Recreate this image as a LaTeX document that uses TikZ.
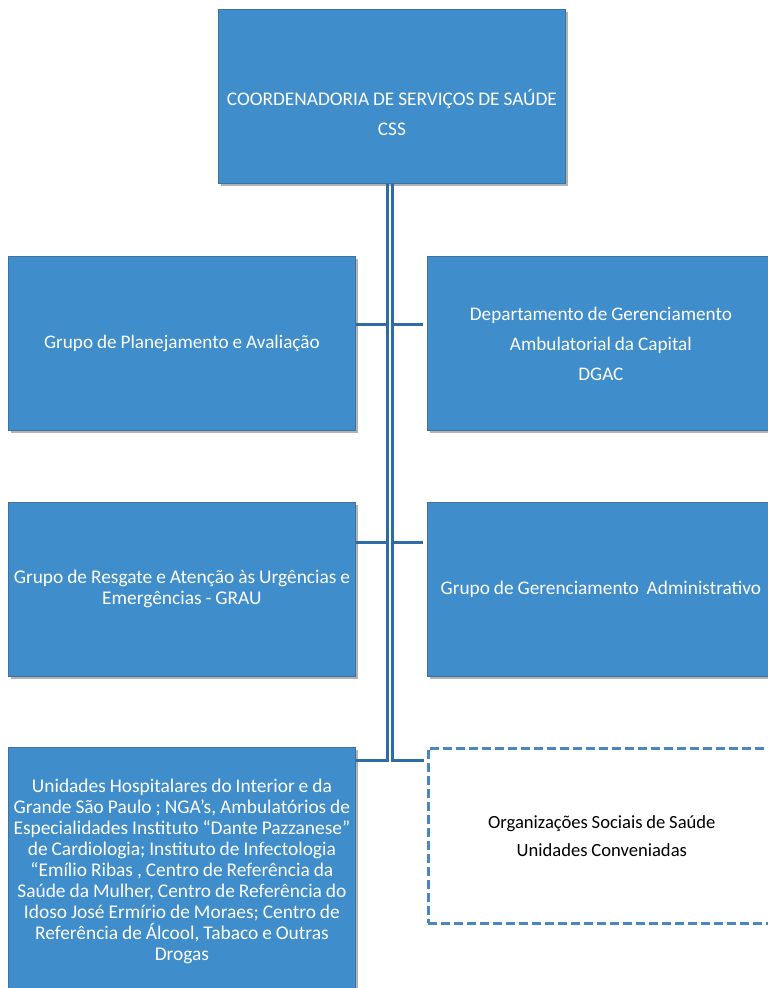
\documentclass[tikz,border=0pt]{standalone}
\usepackage{fontspec}
\setmainfont[WordSpace=0.9]{Carlito}
\usetikzlibrary{shadows,calc}
\definecolor{boxblue}{HTML}{3F8DCB}
\definecolor{boxedge}{HTML}{41719C}
\definecolor{linkblue}{HTML}{2F6CA6}
\definecolor{dashblue}{HTML}{4A86C2}

\begin{document}
\begin{tikzpicture}[x=1pt,y=-1pt,
  orgbox/.style={rectangle, anchor=north west, minimum width=347pt,
    minimum height=174pt, inner sep=2pt, fill=boxblue, draw=boxedge,
    line width=0.8pt, text=white, align=center,
    font=\fontsize{19.2}{30}\selectfont,
    drop shadow={shadow xshift=2.5pt, shadow yshift=-2.5pt, fill=black, opacity=0.3}},
  dashbox/.style={rectangle, anchor=north west, minimum width=347pt,
    minimum height=175pt, inner sep=2pt, draw=dashblue, line width=2.6pt,
    dash pattern=on 9pt off 4pt, text=black, align=center,
    font=\fontsize{18.6}{28}\selectfont},
  link/.style={draw=linkblue, line width=2.8pt},
]
\clip (0,0) rectangle (768,988);

% top unit
\node[orgbox] (css) at (218,9) {};
\node[text=white, align=center, font=\fontsize{19.3}{30}\selectfont]
  (csstext) at ([yshift=-16pt]css.center)
  {COORDENADORIA DE SERVIÇOS DE SAÚDE\\CSS};

% first row
\node[orgbox] (gpa) at (8,256) {Grupo de Planejamento e Avaliação};
\node[orgbox] (dgac) at (427,256)
  {Departamento de Gerenciamento\\Ambulatorial da Capital\\DGAC};

% second row
\node[orgbox, font=\fontsize{19.4}{21}\selectfont] (grau) at (8,502)
  {Grupo de Resgate e Atenção às Urgências e\\Emergências - GRAU};
\node[orgbox, font=\fontsize{19.3}{30}\selectfont] (gga) at (427,502)
  {Grupo de Gerenciamento~ Administrativo};

% third row
\node[orgbox, minimum height=249pt, font=\fontsize{19.4}{21}\selectfont] (unid) at (8,747)
  {Unidades Hospitalares do Interior e da\\
   Grande São Paulo ; NGA’s, Ambulatórios de\\
   Especialidades Instituto “Dante Pazzanese”\\
   de Cardiologia; Instituto de Infectologia\\
   “Emílio Ribas , Centro de Referência da\\
   Saúde da Mulher, Centro de Referência do\\
   Idoso José Ermírio de Moraes; Centro de\\
   Referência de Álcool, Tabaco e Outras\\
   Drogas};
\node[dashbox] (oss) at (427,747)
  {Organizações Sociais de Saúde\\Unidades Conveniadas};

% connectors: left branch
\draw[link] ([xshift=-4.2pt]css.south) |- ([yshift=-68.3pt]gpa.north east);
\draw[link] ([xshift=-4.2pt]css.south) |- ([yshift=-40.2pt]grau.north east);
\draw[link] ([xshift=-4.2pt]css.south) |- ([yshift=-13.8pt]unid.north east);
% connectors: right branch
\draw[link, shorten >=4pt] ([xshift=0.5pt]css.south) |- ([yshift=-68.3pt]dgac.north west);
\draw[link, shorten >=4pt] ([xshift=0.5pt]css.south) |- ([yshift=-40.2pt]gga.north west);
\draw[link, shorten >=3.5pt] ([xshift=0.5pt]css.south) |- ([yshift=-13.8pt]oss.north west);
\end{tikzpicture}
\end{document}
